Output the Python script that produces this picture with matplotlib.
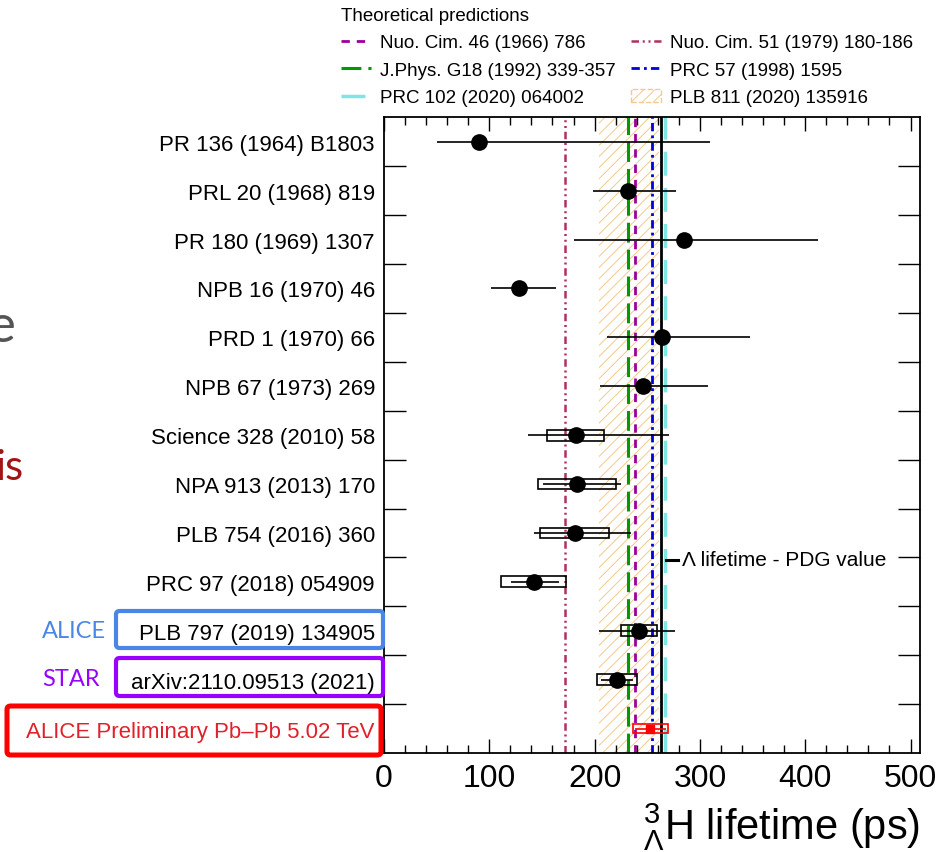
import matplotlib
matplotlib.use("Agg")
import matplotlib.pyplot as plt
from matplotlib.lines import Line2D
from matplotlib.patches import Patch, Rectangle, FancyBboxPatch
from matplotlib.ticker import MultipleLocator

plt.rcParams["font.family"] = ["Liberation Sans", "DejaVu Sans"]
plt.rcParams["mathtext.fontset"] = "custom"
plt.rcParams["mathtext.rm"] = "Liberation Sans"
plt.rcParams["mathtext.it"] = "Liberation Sans:italic"
plt.rcParams["hatch.linewidth"] = 0.7

W, H = 938, 853

# Measurements, top to bottom
measurements = [
    "PR 136 (1964) B1803",
    "PRL 20 (1968) 819",
    "PR 180 (1969) 1307",
    "NPB 16 (1970) 46",
    "PRD 1 (1970) 66",
    "NPB 67 (1973) 269",
    "Science 328 (2010) 58",
    "NPA 913 (2013) 170",
    "PLB 754 (2016) 360",
    "PRC 97 (2018) 054909",
    "PLB 797 (2019) 134905",
    "arXiv:2110.09513 (2021)",
    "ALICE Preliminary Pb\u2013Pb 5.02 TeV",
]
lifetime = [90, 232, 285, 128, 264, 246, 182, 183, 181, 142, 242, 221, 253]
stat_low = [40, 34, 105, 26, 52, 41, 45, 32, 39, 21, 38, 15, 15]
stat_high = [220, 45, 127, 35, 84, 62, 89, 42, 54, 24, 34, 15, 15]
syst = [0, 0, 0, 0, 0, 0, 27, 37, 33, 31, 17, 19, 17]

# Theoretical predictions (ps)
theory_labels = [
    "Nuo. Cim. 46 (1966) 786",
    "J.Phys. G18 (1992) 339-357",
    "PRC 102 (2020) 064002",
    "Nuo. Cim. 51 (1979) 180-186",
    "PRC 57 (1998) 1595",
]
theory_values = [238.5, 231.5, 267, 172, 254.5]
band_label = "PLB 811 (2020) 135916"
band_low, band_high = 204, 261
pdg_lifetime = 263.2

theory_styles = [
    dict(color="#990099", lw=2.0, dashes=(3, 2.5)),
    dict(color="#009900", lw=2.2, dashes=(6.5, 2.3)),
    dict(color="#7fe5e5", lw=2.5, dashes=(6.9, 3.5)),
    dict(color="#b03060", lw=1.8, dashes=(3, 1.5, 0.8, 1.5, 0.8, 1.5)),
    dict(color="#0000dd", lw=2.0, dashes=(3, 1.5, 1, 1.5)),
]
BAND_COLOR = "#f3c98c"


def px_box(x0, y0, x1, y1):
    """Image pixel box (top-left origin) -> figure fraction (x, y, w, h)."""
    return x0 / W, 1 - y1 / H, (x1 - x0) / W, (y1 - y0) / H


fig = plt.figure(figsize=(W / 100, H / 100), dpi=100)
ax = fig.add_axes([384 / W, 1 - 754 / H, 536 / W, (754 - 118.3) / H])

rows = list(range(len(measurements)))
n_black = len(measurements) - 1

# theory band and lines
ax.axvspan(band_low, band_high, facecolor="none", edgecolor=BAND_COLOR,
           hatch="///", linewidth=0, zorder=1)
for v, st in zip(theory_values, theory_styles):
    ax.axvline(v, zorder=2, **st)
ax.axvline(pdg_lifetime, color="black", lw=2.0, zorder=3)

# systematic boxes
box_h = 0.22
for i, (v, s) in enumerate(zip(lifetime, syst)):
    if s <= 0:
        continue
    c = "red" if i == n_black else "black"
    hh = box_h * (0.85 if i == n_black else 1)
    ax.add_patch(Rectangle((v - s, i - hh / 2), 2 * s, hh,
                           fill=False, edgecolor=c, lw=1.2, zorder=4))

# statistical errors + points
ax.errorbar(lifetime[:n_black], rows[:n_black],
            xerr=[stat_low[:n_black], stat_high[:n_black]],
            fmt="o", color="black", ms=11, elinewidth=1.2, capsize=0, zorder=5)
ax.errorbar(lifetime[n_black:], rows[n_black:],
            xerr=[stat_low[n_black:], stat_high[n_black:]],
            fmt="s", color="red", ms=6, elinewidth=1.2, capsize=0, zorder=6)

# PDG label with its line key
ax.plot([0.526, 0.549], [0.304, 0.304], transform=ax.transAxes, color="black", lw=2.2)
ax.text(0.556, 0.304, "\u039b lifetime - PDG value", transform=ax.transAxes,
        fontsize=15, va="center", ha="left")

ax.set_xlim(0, 509)
ax.set_ylim(len(measurements) - 0.5, -0.5)
ax.xaxis.set_major_locator(MultipleLocator(100))
ax.xaxis.set_minor_locator(MultipleLocator(20))
ax.tick_params(axis="x", which="both", direction="in", top=True, width=1,
               labelsize=23, pad=7)
ax.tick_params(axis="x", which="major", length=10)
ax.tick_params(axis="x", which="minor", length=5.5)

ax.set_yticks(rows)
ax.set_yticklabels(measurements)
ax.set_yticks([r + 0.5 for r in rows[:-1]], minor=True)
ax.tick_params(axis="y", which="major", length=0, pad=6.5, labelsize=16)
ax.tick_params(axis="y", which="minor", direction="in", length=16, width=1,
               left=True, right=True)
ax.get_yticklabels()[-1].set_color("#e0202a")

for sp in ax.spines.values():
    sp.set_linewidth(1.3)

ax.set_xlabel(r"${}^{3}_{\Lambda}$H lifetime (ps)", fontsize=30, loc="right", labelpad=5)

# legend of theoretical predictions
handles = [Line2D([], [], **st) for st in theory_styles]
handles.append(Patch(facecolor="none", edgecolor=BAND_COLOR, hatch="///",
                     linestyle="--", lw=1))
labels = theory_labels + [band_label]
fig.legend(handles, labels, loc="upper left", bbox_to_anchor=(341 / W, 1 - 8 / H),
           ncol=2, frameon=False, title="Theoretical predictions", alignment="left",
           fontsize=13.5, title_fontsize=13.5, handlelength=1.6, handletextpad=0.5,
           columnspacing=0.8, labelspacing=0.55, borderpad=0, borderaxespad=0)

# slide annotations around the plot
for (x0, y0, x1, y1), c, lw in [((116, 612, 383, 649), "#4a86e8", 3),
                                ((116, 659, 383, 697), "#9900ff", 3),
                                ((7, 707, 381, 756), "#ff0000", 3.6)]:
    x, y, w, h = px_box(x0, y0, x1, y1)
    fig.add_artist(FancyBboxPatch((x, y), w, h, boxstyle="round,pad=0,rounding_size=0.004",
                                  transform=fig.transFigure, facecolor="none",
                                  edgecolor=c, lw=lw))

fig.text(42 / W, 1 - 632 / H, "ALICE", color="#4a86e8", fontsize=17, family="Lato",
         ha="left", va="center")
fig.text(42 / W, 1 - 680 / H, "STAR", color="#9900ff", fontsize=17, family="Lato",
         ha="left", va="center")
fig.text(16 / W, 1 - 342 / H, "e", color="#555555", fontsize=38, family="Lato",
         ha="right", va="baseline")
fig.text(24 / W, 1 - 480 / H, "is", color="#a31515", fontsize=30, family="Lato",
         ha="right", va="baseline")

fig.savefig("out.png", dpi=100)
plt.close(fig)
